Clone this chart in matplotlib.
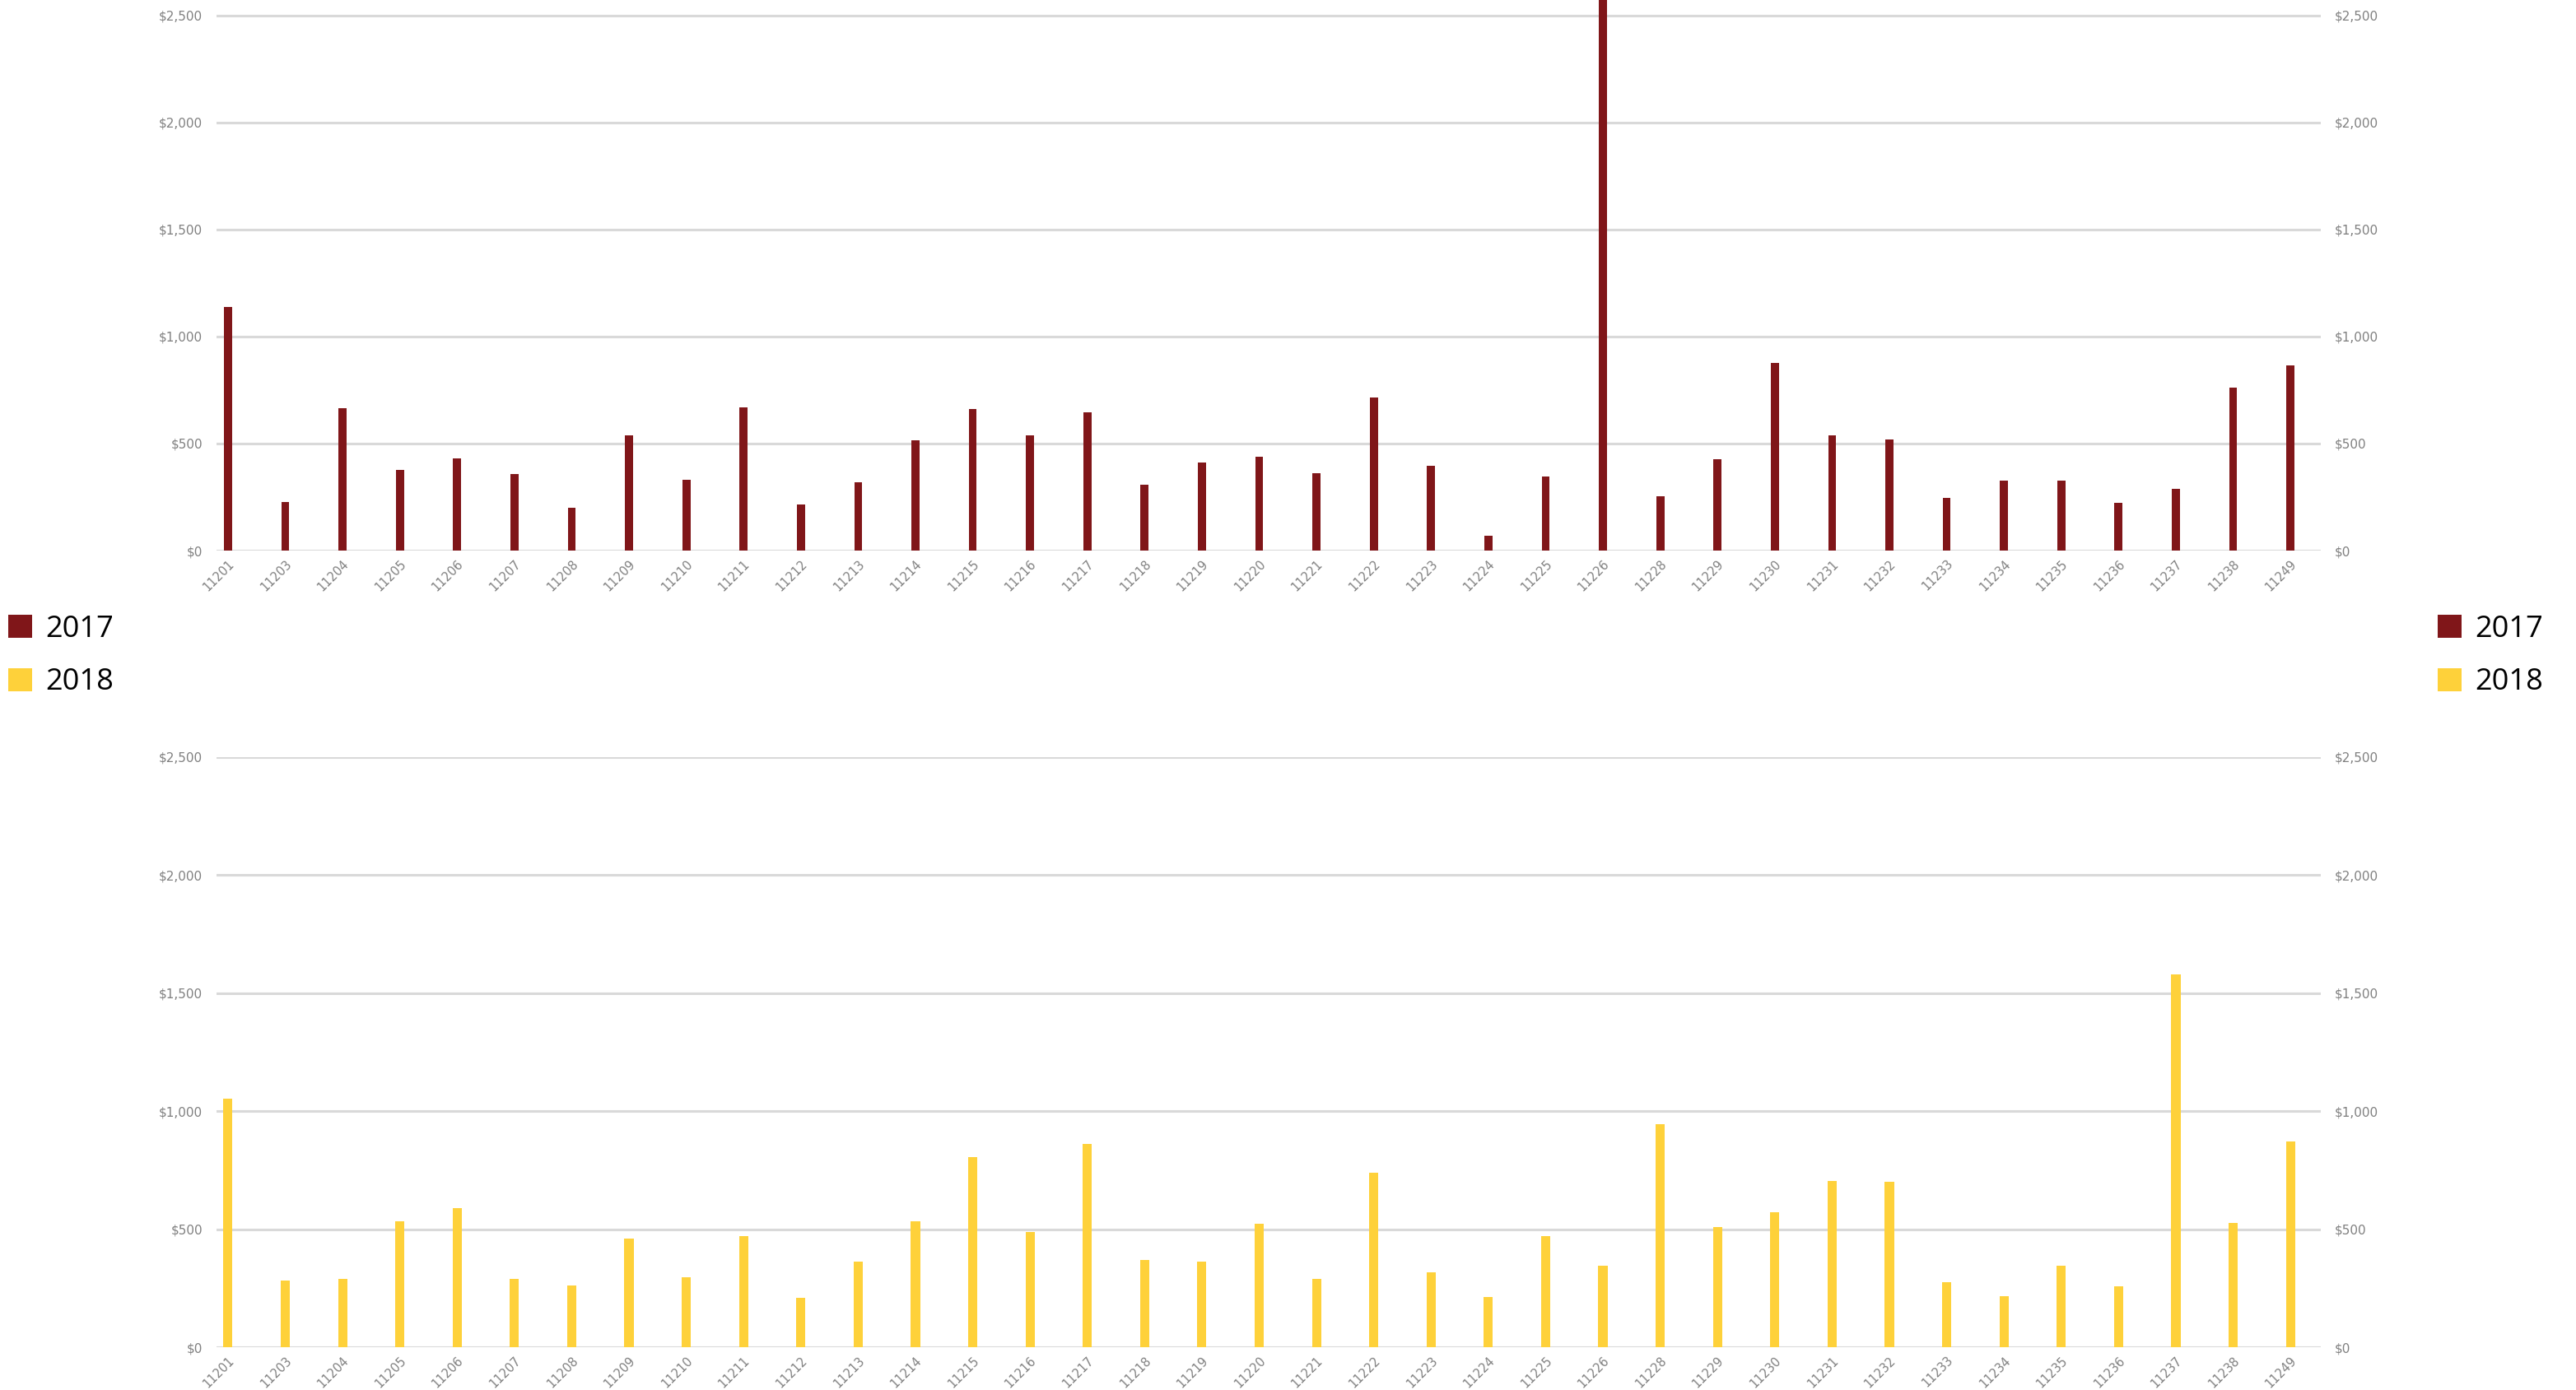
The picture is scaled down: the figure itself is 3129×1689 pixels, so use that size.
"""Zip-code spend, 2017 vs 2018, as two stacked bar panels."""

import matplotlib.pyplot as plt
from matplotlib.patches import Patch
from matplotlib.ticker import FuncFormatter


zips = [
    "11201", "11203", "11204", "11205", "11206", "11207", "11208", "11209",
    "11210", "11211", "11212", "11213", "11214", "11215", "11216", "11217",
    "11218", "11219", "11220", "11221", "11222", "11223", "11224", "11225",
    "11226", "11228", "11229", "11230", "11231", "11232", "11233", "11234",
    "11235", "11236", "11237", "11238", "11249",
]
spend_2017 = [
    1140, 225, 665, 378, 432, 356, 200, 540, 332, 670, 215, 318, 515, 662,
    540, 648, 308, 410, 440, 362, 715, 395, 70, 348, 2800, 252, 425, 877,
    540, 518, 246, 325, 325, 222, 288, 762, 865,
]
spend_2018 = [
    1054, 281, 289, 535, 591, 289, 263, 460, 298, 471, 208, 361, 535, 806,
    489, 860, 370, 364, 523, 289, 739, 316, 214, 470, 344, 946, 510, 573,
    706, 700, 276, 216, 344, 258, 1579, 525, 873,
]
years = ["2017", "2018"]
colors = ["#801619", "#FED13A"]

W, H = 3129, 1689
fig = plt.figure(figsize=(W / 100, H / 100), dpi=100)

money = FuncFormatter(lambda v, _: f"${v:,.0f}")
positions = list(range(len(zips)))

panels = [
    (spend_2017, colors[0], 0.14, [263 / W, 1 - 669 / H, 2556 / W, 669 / H], 2573),
    (spend_2018, colors[1], 0.16, [263 / W, 1 - 1637 / H, 2556 / W, 717 / H], 2500),
]

for values, color, width, rect, top in panels:
    axis = fig.add_axes(rect)
    axis.bar(positions, values, width=width, color=color, zorder=3)
    axis.set_xlim(-0.2, len(zips) - 1 + 0.53)
    axis.set_ylim(0, top)
    axis.set_yticks([0, 500, 1000, 1500, 2000, 2500])
    axis.yaxis.set_major_formatter(money)
    axis.set_xticks(positions)
    axis.set_xticklabels(zips, rotation=45, ha="right", rotation_mode="anchor")
    axis.grid(axis="y", color="#d9d9d9", linewidth=2.2, zorder=0)
    axis.set_axisbelow(True)
    for spine in axis.spines.values():
        spine.set_visible(False)
    axis.tick_params(axis="y", length=0, pad=12, labelsize=11,
                     labelcolor="#808080", labelleft=True, labelright=True)
    axis.tick_params(axis="x", length=0, pad=6, labelsize=10.5,
                     labelcolor="#808080")

handles = [Patch(facecolor=c, edgecolor="none") for c in colors]
for x_anchor in (10 / W, 2961 / W):
    fig.legend(handles, years, loc="center left",
               bbox_to_anchor=(x_anchor, 1 - 797 / H), frameon=False,
               handlelength=0.8, handleheight=0.8,
               handletextpad=0.45, labelspacing=0.8, borderpad=0,
               borderaxespad=0, prop={"family": "Open Sans", "size": 26})

fig.savefig("out.png", dpi=100, facecolor="white")
